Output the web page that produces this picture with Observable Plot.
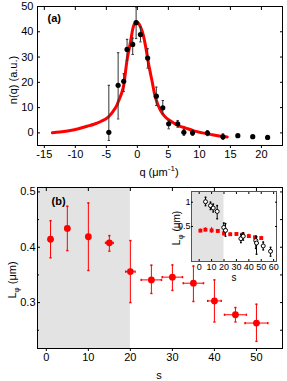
<!DOCTYPE html>
<html><head><meta charset="utf-8">
<script src="https://cdn.jsdelivr.net/npm/d3@7"></script>
<script src="https://cdn.jsdelivr.net/npm/@observablehq/plot@0.6"></script>
<style>
body{margin:0;background:#fff;}
#wrap{position:relative;width:287px;height:381px;font-family:"Liberation Sans",Arial,sans-serif;color:#000;}
#wrap svg{position:absolute;overflow:visible;background:transparent;}
.lab{position:absolute;font-size:11px;white-space:nowrap;line-height:1;}
.rot{transform:translate(-50%,-50%) rotate(-90deg);}
.ctr{transform:translate(-50%,-50%);}
sub,sup{font-size:8px;line-height:0;}
</style></head>
<body><div id="wrap"></div>
<script>
// ---- Panel (a) data ----
const curveQ = [-13.7,-12.5,-10.8,-9.5,-8.1,-7.0,-5.9,-4.7,-3.5,-3.0,-2.5,-2.2,-1.65,-1.1,-0.6,-0.2,0.2,0.8,1.3,1.8,2.4,2.9,3.7,4.5,5.3,6.1,7.0,7.7,9.1,10.5,11.8,13.2,14.5];
const curveN = [0,0.3,0.9,1.6,2.6,3.4,4.5,6.2,10,12.8,16,18.8,29,36,42.4,44,43.3,40,34.6,27.4,20.1,14.1,9,6.3,4.8,3.5,2.5,2.0,0.8,0,-0.6,-1.2,-1.6];
const ptQ  = [-4.6,-3.1,-2.2,-1.66,-0.75,-0.2,0.5,1.66,3.06,4.1,5.05,6.5,7.5,8.9,11.3,13.8,16.2,18.6,21.0];
const ptN  = [0.2,18.8,20.4,33,35,43.6,38.9,29.6,14.5,9.9,3.6,3.6,0.2,0,-0.1,-1.5,-1.1,-1.5,-1.8];
const ptLo = [-3,5.5,16.4,28.7,31,37.3,36,25.6,10.8,7.5,1.6,2.2,-1.0,-1.0,-1.1,-2.6,null,null,null];
const ptHi = [18.8,31.7,23.4,37,37.5,49.8,41.9,33.3,18.1,12.8,4.9,4.9,1.4,1.0,0.9,-0.4,null,null,null];
const ticksQ = [-15,-10,-5,0,5,10,15,20];
const ticksN = [0,10,20,30,40,50];

// ---- Panel (b) data ----
const sVals  = [1,5,10,15,20,25,30,35,40,45,50];
const LVals  = [0.4145,0.434,0.419,0.408,0.356,0.341,0.346,0.335,0.303,0.278,0.263];
const LLo    = [0.381,0.394,0.358,0.393,0.300,0.3165,0.322,0.302,0.265,0.265,0.230];
const LHi    = [0.448,0.474,0.480,0.421,0.412,0.3675,0.368,0.366,0.341,0.291,0.297];
const sErr   = [0,0,0,0.9,1.1,2.4,2.4,2.4,1.6,2.6,2.7];
const ticksS = [0,10,20,30,40,50];
const ticksL = [0.3,0.4,0.5];
const minorL = [0.25,0.35,0.45];
const shadeS = [20];

// ---- Inset data (open circles) ----
const insS  = [5.1,9.1,11.3,14.5,19.8,21.2,33.6,35.5,45.6,46.2,51.6,57.5];
const insL  = [1.01,0.93,0.88,0.81,0.48,0.42,0.25,0.30,0.21,0.16,0.10,-0.01];
const insLo = [0.93,0.85,0.80,0.66,0.40,0.30,0.17,0.22,0.05,-0.07,0.02,-0.11];
const insHi = [1.10,1.00,0.96,0.93,0.57,0.56,0.34,0.37,0.30,0.29,0.18,0.07];
const ticksInsS = [0,10,20,30,40,50,60];
const ticksInsL = [0.5,1];

const capH = {draw(ctx,size){const r=Math.sqrt(size/Math.PI);ctx.moveTo(-r,0);ctx.lineTo(r,0);}};
const capV = {draw(ctx,size){const r=Math.sqrt(size/Math.PI);ctx.moveTo(0,-r);ctx.lineTo(0,r);}};

const wrap = document.getElementById("wrap");
function place(svg, left, top){ svg.style.left = left+"px"; svg.style.top = top+"px"; wrap.appendChild(svg); }
function label(html, x, y, cls, size){ const d=document.createElement("div"); d.className="lab "+cls; d.innerHTML=html; d.style.left=x+"px"; d.style.top=y+"px"; if(size) d.style.fontSize=size+"px"; wrap.appendChild(d); }

// Panel (a)
const curve = curveQ.map((q,i)=>({q, n: curveN[i]}));
const pts = ptQ.map((q,i)=>({q, n: ptN[i], lo: ptLo[i], hi: ptHi[i]}));
const ptsE = pts.filter(d=>d.lo!=null);
const A = Plot.plot({
  width: 287, height: 180,
  marginLeft: 37, marginRight: 5, marginTop: 6, marginBottom: 35,
  style: {fontFamily: "Liberation Sans, Arial, sans-serif", fontSize: "11px", color: "#000", background: "transparent"},
  x: {domain: [-16.1, 23.4]},
  y: {domain: [-5, 50]},
  marks: [
    Plot.line(curve, {x: "q", y: "n", stroke: "#ff0000", strokeWidth: 3, curve: "catmull-rom"}),
    Plot.ruleX(ptsE, {x: "q", y1: "lo", y2: "hi", stroke: "#333", strokeWidth: 1}),
    Plot.dot(ptsE, {x: "q", y: "hi", symbol: capH, r: 1.2, stroke: "#333", strokeWidth: 1}),
    Plot.dot(ptsE.filter(d=>d.lo>-4), {x: "q", y: "lo", symbol: capH, r: 1.2, stroke: "#333", strokeWidth: 1}),
    Plot.dot(pts, {x: "q", y: "n", r: 2.6, fill: "#000"}),
    Plot.frame({stroke: "#000"}),
    Plot.axisX({anchor: "bottom", ticks: ticksQ, tickSize: 3, tickPadding: 2, label: null, tickFormat: d=>d<0?"-"+(-d):String(d)}),
    Plot.axisX({anchor: "top", ticks: ticksQ, tickSize: -3, tickFormat: ()=>"", label: null}),
    Plot.axisY({anchor: "left", ticks: ticksN, tickSize: -3, tickPadding: 7, label: null}),
    Plot.axisY({anchor: "right", ticks: ticksN, tickSize: -3, tickFormat: ()=>"", label: null}),
    Plot.text(["(a)"], {frameAnchor: "top-left", dx: 10, dy: 8, fontWeight: "bold", fontSize: 11})
  ]
});
place(A, 0, 0);
label("q (μm<sup>-1</sup>)", 159, 172, "ctr");
label("n(q) (a.u.)", 13, 80, "rot");

// Panel (b)
const bd = sVals.map((s,i)=>({s, L: LVals[i], lo: LLo[i], hi: LHi[i], e: sErr[i]}));
const bdE = bd.filter(d=>d.e>0);
const B = Plot.plot({
  width: 287, height: 201,
  marginLeft: 37, marginRight: 5, marginTop: 7, marginBottom: 33,
  style: {fontFamily: "Liberation Sans, Arial, sans-serif", fontSize: "11px", color: "#000", background: "transparent"},
  x: {domain: [-2.1, 56.2]},
  y: {domain: [0.217, 0.508]},
  marks: [
    Plot.rect(shadeS, {x1: -2.1, x2: d=>d, y1: 0.217, y2: 0.508, fill: "#e3e3e3"}),
    Plot.ruleX(bd, {x: "s", y1: "lo", y2: "hi", stroke: "#ff0000", strokeWidth: 1}),
    Plot.dot(bd, {x: "s", y: "hi", symbol: capH, r: 1.1, stroke: "#ff0000"}),
    Plot.dot(bd, {x: "s", y: "lo", symbol: capH, r: 1.1, stroke: "#ff0000"}),
    Plot.ruleY(bdE, {y: "L", x1: d=>d.s-d.e, x2: d=>d.s+d.e, stroke: "#ff0000", strokeWidth: 1}),
    Plot.dot(bdE, {x: d=>d.s-d.e, y: "L", symbol: capV, r: 1.1, stroke: "#ff0000"}),
    Plot.dot(bdE, {x: d=>d.s+d.e, y: "L", symbol: capV, r: 1.1, stroke: "#ff0000"}),
    Plot.dot(bd, {x: "s", y: "L", r: 3.4, fill: "#ff0000"}),
    Plot.frame({stroke: "#000"}),
    Plot.axisX({anchor: "bottom", ticks: ticksS, tickSize: 3, tickPadding: 2, label: null}),
    Plot.axisX({anchor: "top", ticks: ticksS, tickSize: -3, tickFormat: ()=>"", label: null}),
    Plot.axisY({anchor: "left", ticks: ticksL, tickSize: -3, tickPadding: 5, label: null, tickFormat: d3.format(".1f")}),
    Plot.axisY({anchor: "left", ticks: minorL, tickSize: -2, tickFormat: ()=>"", label: null}),
    Plot.axisY({anchor: "right", ticks: ticksL.concat(minorL), tickSize: -3, tickFormat: ()=>"", label: null}),
    Plot.text(["(b)"], {frameAnchor: "top-left", dx: 14, dy: 10, fontWeight: "bold", fontSize: 11})
  ]
});
place(B, 0, 180);
label("s", 159, 375, "ctr");
label("L<sub>φ</sub> (μm)", 12, 280, "rot");

// Inset
const ins = insS.map((s,i)=>({s, L: insL[i], lo: insLo[i], hi: insHi[i]}));
const C = Plot.plot({
  width: 120, height: 96,
  marginLeft: 31, marginRight: 4, marginTop: 5, marginBottom: 21,
  style: {fontFamily: "Liberation Sans, Arial, sans-serif", fontSize: "9px", color: "#000", background: "transparent"},
  x: {domain: [-6.2, 62.3]},
  y: {domain: [-0.22, 1.22]},
  marks: [
    Plot.frame({fill: "#fff", stroke: null}),
    Plot.rect(shadeS, {x1: -6.2, x2: d=>d, y1: -0.22, y2: 1.22, fill: "#e3e3e3"}),
    Plot.ruleX(bd, {x: "s", y1: "lo", y2: "hi", stroke: "#ff0000", strokeWidth: 1}),
    Plot.dot(bd, {x: "s", y: "L", symbol: "square", r: 2.2, fill: "#ff0000"}),
    Plot.ruleX(ins, {x: "s", y1: "lo", y2: "hi", stroke: "#000", strokeWidth: 1}),
    Plot.dot(ins, {x: "s", y: "hi", symbol: capH, r: 0.9, stroke: "#000"}),
    Plot.dot(ins, {x: "s", y: "lo", symbol: capH, r: 0.9, stroke: "#000"}),
    Plot.dot(ins, {x: "s", y: "L", r: 2, fill: "#fff", stroke: "#000", strokeWidth: 1}),
    Plot.frame({stroke: "#555"}),
    Plot.axisX({anchor: "bottom", ticks: ticksInsS, tickSize: 0, tickPadding: 2, label: null}),
    Plot.axisX({anchor: "bottom", ticks: ticksInsS, tickSize: -2, tickFormat: ()=>"", label: null}),
    Plot.axisX({anchor: "top", ticks: ticksInsS, tickSize: -2, tickFormat: ()=>"", label: null}),
    Plot.axisY({anchor: "left", ticks: ticksInsL, tickSize: -2, tickPadding: 3, label: null, tickFormat: d=>String(d)}),
    Plot.axisY({anchor: "right", ticks: ticksInsL, tickSize: -2, tickFormat: ()=>"", label: null})
  ]
});
place(C, 160, 186);
label("s", 234, 278, "ctr", 10);
label("L<sub>φ</sub> (μm)", 177, 228, "rot", 10);
</script>
</body></html>
